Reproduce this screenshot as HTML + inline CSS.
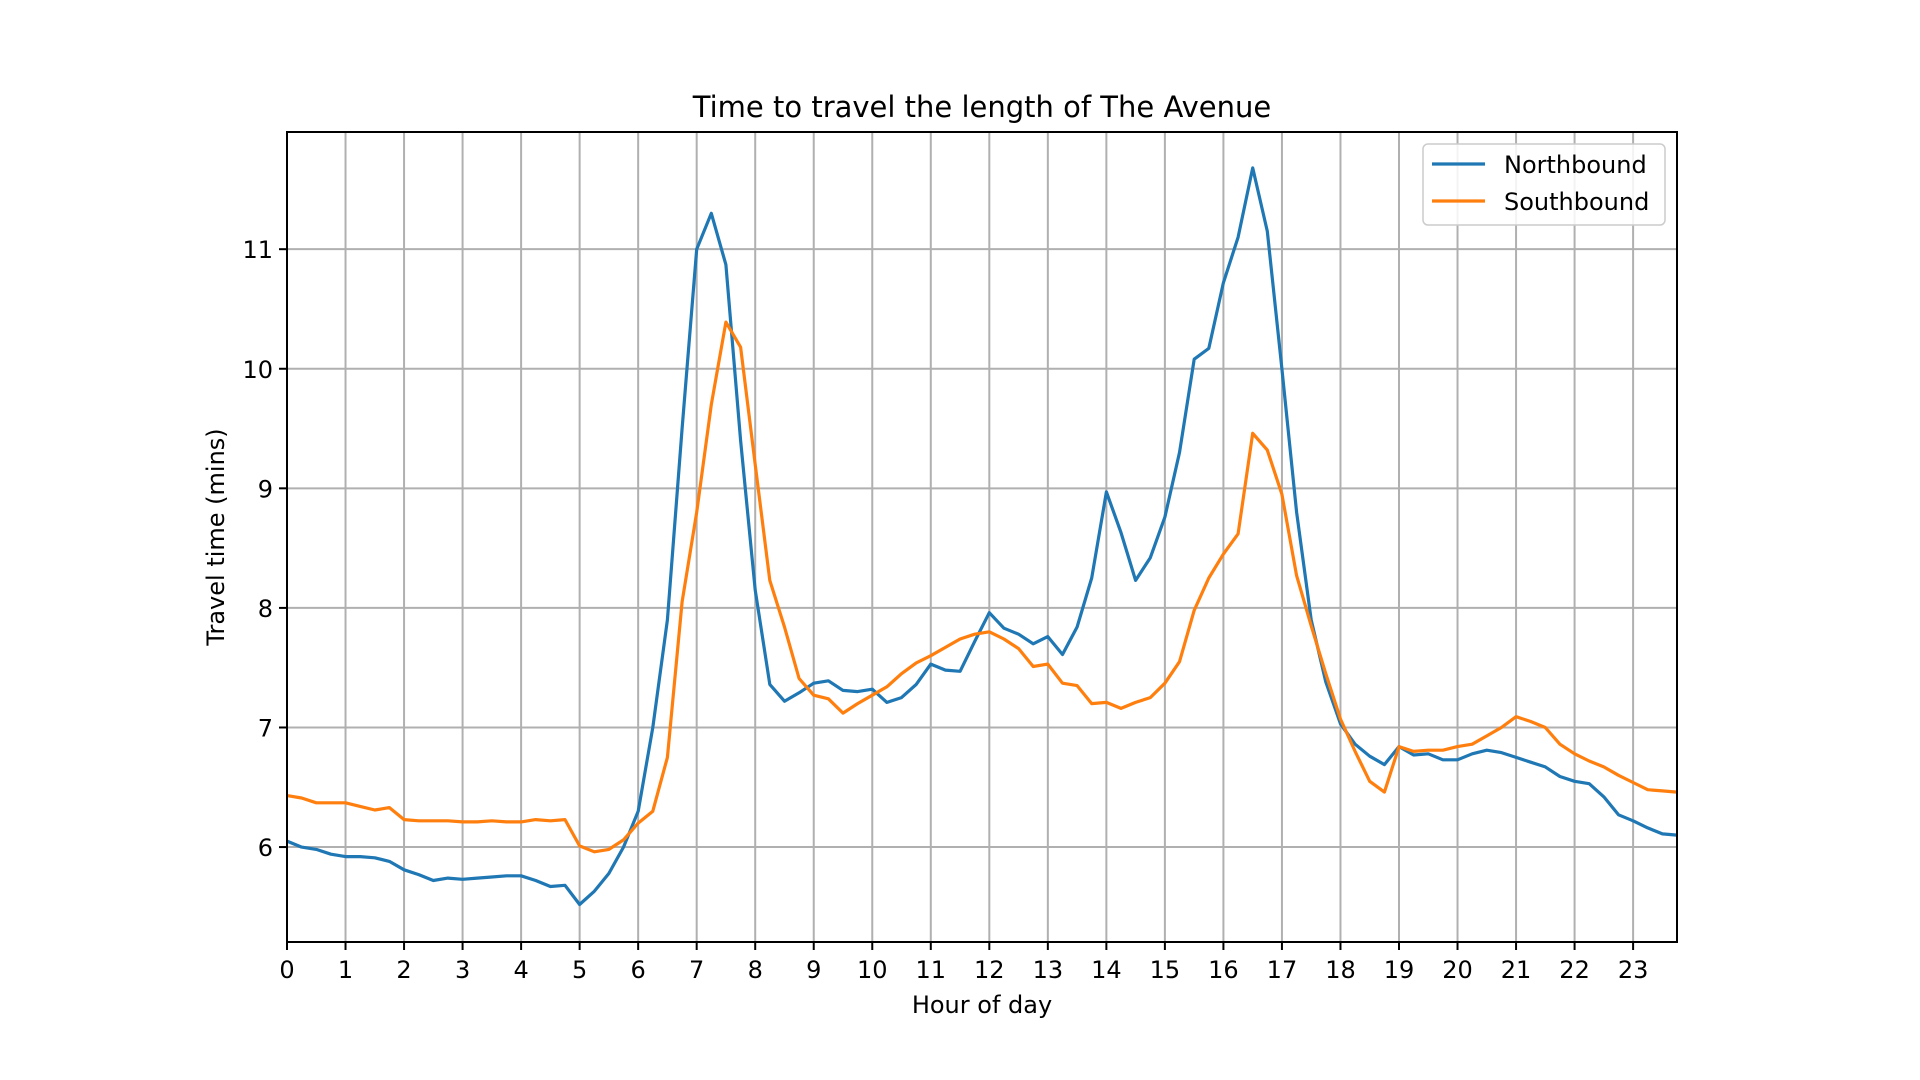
<!DOCTYPE html>
<html><head><meta charset="utf-8"><style>
html,body{margin:0;padding:0;background:#fff;}
svg{display:block;font-family:"DejaVu Sans","Liberation Sans",sans-serif;}
</style></head><body>
<svg id="chart" width="1920" height="1080">
<rect width="1920" height="1080" fill="#fff"/>
<g id="grid"></g>
<g id="series"></g>
<rect x="287" y="132" width="1390" height="810" fill="none" stroke="#000" stroke-width="2"/>
<g id="ticks"></g>
<text x="982" y="117" text-anchor="middle" font-size="29" fill="#000">Time to travel the length of The Avenue</text>
<text x="982" y="1013" text-anchor="middle" font-size="24" fill="#000">Hour of day</text>
<text x="0" y="0" transform="translate(224,537) rotate(-90)" text-anchor="middle" font-size="24" fill="#000">Travel time (mins)</text>
<g>
<rect x="1423" y="144" width="242" height="81" rx="5" fill="#fff" fill-opacity="0.85" stroke="#ccc" stroke-width="1.5"/>
<g>
<line x1="1432" y1="164" x2="1485" y2="164" stroke="#1f77b4" stroke-width="3.2"/>
<text x="1504" y="173" font-size="24" fill="#000">Northbound</text></g>
<g>
<line x1="1432" y1="201" x2="1485" y2="201" stroke="#ff7f0e" stroke-width="3.2"/>
<text x="1504" y="210" font-size="24" fill="#000">Southbound</text></g>
</g>
</svg>
<script>
const xTicks = [0,1,2,3,4,5,6,7,8,9,10,11,12,13,14,15,16,17,18,19,20,21,22,23];
const yTicks = [6,7,8,9,10,11];
const northbound = [6.05,6.0,5.98,5.94,5.92,5.92,5.91,5.88,5.81,5.77,5.72,5.74,5.73,5.74,5.75,5.76,5.76,5.72,5.67,5.68,5.52,5.63,5.78,6.0,6.3,7.0,7.9,9.5,11.0,11.3,10.87,9.4,8.15,7.36,7.22,7.29,7.37,7.39,7.31,7.3,7.32,7.21,7.25,7.36,7.53,7.48,7.47,7.72,7.96,7.83,7.78,7.7,7.76,7.61,7.84,8.25,8.97,8.63,8.23,8.42,8.76,9.3,10.08,10.17,10.72,11.1,11.68,11.15,10.0,8.8,7.9,7.38,7.03,6.86,6.76,6.69,6.84,6.77,6.78,6.73,6.73,6.78,6.81,6.79,6.75,6.71,6.67,6.59,6.55,6.53,6.42,6.27,6.22,6.16,6.11,6.1];
const southbound = [6.43,6.41,6.37,6.37,6.37,6.34,6.31,6.33,6.23,6.22,6.22,6.22,6.21,6.21,6.22,6.21,6.21,6.23,6.22,6.23,6.01,5.96,5.98,6.06,6.2,6.3,6.75,8.05,8.8,9.7,10.39,10.18,9.2,8.23,7.84,7.41,7.27,7.24,7.12,7.2,7.27,7.34,7.45,7.54,7.6,7.67,7.74,7.78,7.8,7.74,7.66,7.51,7.53,7.37,7.35,7.2,7.21,7.16,7.21,7.25,7.37,7.55,7.98,8.25,8.45,8.62,9.46,9.32,8.95,8.27,7.85,7.45,7.07,6.8,6.55,6.46,6.84,6.8,6.81,6.81,6.84,6.86,6.93,7.0,7.09,7.05,7.0,6.86,6.78,6.72,6.67,6.6,6.54,6.48,6.47,6.46];
const stepHours = 0.25;

const NS='http://www.w3.org/2000/svg';
const L=287,R=1677,T=132,B=942;
const xMin=0,xMax=23.75,yMin=5.206,yMax=11.98;
function xs(v){return L+(v-xMin)/(xMax-xMin)*(R-L);}
function ys(v){return B-(v-yMin)/(yMax-yMin)*(B-T);}
function mk(tag,attrs,parent){const e=document.createElementNS(NS,tag);for(const k in attrs)e.setAttribute(k,attrs[k]);parent.appendChild(e);return e;}
const grid=document.getElementById('grid'),ticks=document.getElementById('ticks'),series=document.getElementById('series');
xTicks.forEach(t=>{
  const x=xs(t);
  const g=mk('line',{x1:x,y1:T,x2:x,y2:B,stroke:'#b0b0b0','stroke-width':2},grid);
  
  
  mk('line',{x1:x,y1:B,x2:x,y2:B+8,stroke:'#000','stroke-width':2},ticks);
  const tx=mk('text',{x:x,y:B+36,'text-anchor':'middle','font-size':24,fill:'#000'},ticks);
  tx.textContent=t;
  
  
});
yTicks.forEach(t=>{
  const y=ys(t);
  const g=mk('line',{x1:L,y1:y,x2:R,y2:y,stroke:'#b0b0b0','stroke-width':2},grid);
  
  
  mk('line',{x1:L-8,y1:y,x2:L,y2:y,stroke:'#000','stroke-width':2},ticks);
  const tx=mk('text',{x:L-14,y:y+9,'text-anchor':'end','font-size':24,fill:'#000'},ticks);
  tx.textContent=t;
  
  
});
function draw(vals,color,name){
  const pts=vals.map((v,i)=>xs(i*stepHours).toFixed(1)+','+ys(v).toFixed(1)).join(' ');
  const p=mk('polyline',{points:pts,fill:'none',stroke:color,'stroke-width':3.2,'stroke-linejoin':'round'},series);
  
  
}
draw(northbound,'#1f77b4','northbound-line');
draw(southbound,'#ff7f0e','southbound-line');
</script>
</body></html>
